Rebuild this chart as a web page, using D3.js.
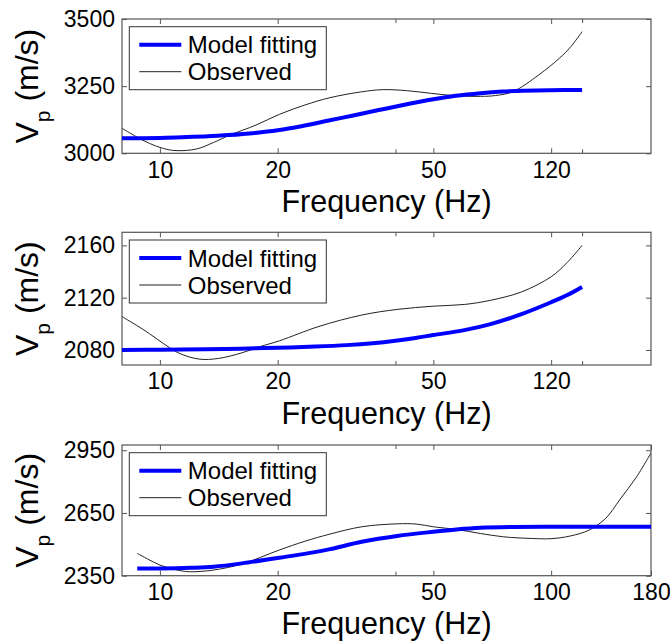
<!DOCTYPE html>
<html>
<head>
<meta charset="utf-8">
<script src="https://cdn.jsdelivr.net/npm/d3@7"></script>
<style>
  html, body { margin: 0; padding: 0; background: #fff; }
  svg { display: block; }
  text { font-family: "Liberation Sans", Arial, Helvetica, sans-serif; fill: #000; }
</style>
</head>
<body>
<svg id="chart" width="670" height="641"></svg>
<script>
// ---------- data ----------
const seriesNames = ["Model fitting", "Observed"];
const xLabel = "Frequency (Hz)";

// Panel 1
const p1ModelFreq = [8, 9, 10, 11, 13, 15, 17.5, 20, 23, 27, 31, 36, 41, 50, 57, 66, 75, 85, 100, 120];
const p1ModelVp   = [3056, 3056, 3057, 3059, 3063, 3068, 3076, 3086, 3101, 3122, 3140, 3160, 3177, 3201, 3214, 3224, 3230, 3233, 3235, 3236];
const p1ObsFreq   = [8, 8.7, 9.4, 10.2, 11, 12.4, 13.7, 15.1, 17.6, 20.2, 23.5, 27.2, 32.8, 37.2, 42.9, 49.5, 57.3, 66, 72, 80, 93, 105, 112, 120];
const p1ObsVp     = [3093, 3062, 3037, 3018, 3010, 3016, 3040, 3068, 3105, 3145, 3180, 3207, 3229, 3237, 3233, 3223, 3214, 3212, 3215, 3230, 3292, 3354, 3395, 3453];
const p1YTicks    = [3000, 3250, 3500];
const p1YDomain   = [3000, 3500];
const p1XTicks    = [10, 20, 50, 100];
const p1XTickLabels = ["10", "20", "50", "120"];
const p1XMinor    = [40, 120];

// Panel 2
const p2ModelFreq = [8, 10, 13, 16, 20, 25, 30, 35, 40, 45, 50, 60, 70, 84, 100, 110, 120];
const p2ModelVp   = [2080, 2080.2, 2080.6, 2081, 2081.7, 2082.6, 2083.7, 2085.2, 2087.1, 2089.2, 2091.4, 2095.2, 2099.8, 2107.4, 2116.5, 2122, 2128.2];
const p2ObsFreq   = [8, 8.7, 9.4, 10.2, 11.2, 12.6, 14.1, 16.2, 18, 20.2, 25.5, 32.8, 40.4, 50, 60, 70, 84, 100, 110, 120];
const p2ObsVp     = [2105.5, 2099, 2092.5, 2085, 2077.5, 2073, 2073.5, 2077.8, 2082.5, 2087, 2098, 2106.7, 2111, 2113.5, 2114.8, 2118, 2124.4, 2136, 2147, 2160];
const p2YTicks    = [2080, 2120, 2160];
const p2YDomain   = [2068.5, 2170];
const p2XTicks    = [10, 20, 50, 100];
const p2XTickLabels = ["10", "20", "50", "120"];
const p2XMinor    = [40, 120];

// Panel 3
const p3ModelFreq = [8.75, 10, 12, 13.7, 16.2, 20.2, 24, 27.2, 32.8, 40.4, 50, 57.3, 65.9, 80, 100, 130, 180];
const p3ModelVp   = [2385, 2385, 2388, 2393, 2409, 2436, 2458, 2477, 2512, 2540, 2560, 2571, 2579, 2583, 2584, 2584, 2584];
const p3ObsFreq   = [8.75, 9.3, 10, 10.9, 11.9, 13.7, 16.2, 20.2, 23.5, 27.2, 32.8, 40.4, 45.2, 50, 57.3, 65.9, 75.5, 89.5, 100, 112, 125, 138, 150, 165, 180];
const p3ObsVp     = [2457, 2430, 2401, 2380, 2369, 2377, 2406, 2473, 2515, 2549, 2584, 2598, 2597, 2584, 2571, 2552, 2536, 2528, 2527, 2540, 2568, 2625, 2715, 2820, 2937];
const p3YTicks    = [2350, 2650, 2950];
const p3YDomain   = [2350, 2975];
const p3XTicks    = [10, 20, 50, 100, 180];
const p3XTickLabels = ["10", "20", "50", "100", "180"];
const p3XMinor    = [40];

const xDomain = [8, 180];

// ---------- layout ----------
const plotLeft = 122, plotRight = 651;
const panels = [
  { top: 19,  bottom: 153.3, yDomain: p1YDomain, yTicks: p1YTicks, xTicks: p1XTicks, xTickLabels: p1XTickLabels, xMinor: p1XMinor,
    model: p1ModelFreq.map((f, i) => [f, p1ModelVp[i]]), obs: p1ObsFreq.map((f, i) => [f, p1ObsVp[i]]) },
  { top: 232.3, bottom: 365, yDomain: p2YDomain, yTicks: p2YTicks, xTicks: p2XTicks, xTickLabels: p2XTickLabels, xMinor: p2XMinor,
    model: p2ModelFreq.map((f, i) => [f, p2ModelVp[i]]), obs: p2ObsFreq.map((f, i) => [f, p2ObsVp[i]]) },
  { top: 445, bottom: 575.7, yDomain: p3YDomain, yTicks: p3YTicks, xTicks: p3XTicks, xTickLabels: p3XTickLabels, xMinor: p3XMinor,
    model: p3ModelFreq.map((f, i) => [f, p3ModelVp[i]]), obs: p3ObsFreq.map((f, i) => [f, p3ObsVp[i]]) }
];

const svg = d3.select("#chart");
const frameColor = "#555";
const tickLen = 5;
const tickFont = 23;

const x = d3.scaleLog().domain(xDomain).range([plotLeft, plotRight]);

panels.forEach((p, idx) => {
  const y = d3.scaleLinear().domain(p.yDomain).range([p.bottom, p.top]);
  const g = svg.append("g");
  const clipId = "clip" + idx;
  svg.append("clipPath").attr("id", clipId).append("rect")
    .attr("x", plotLeft).attr("y", p.top).attr("width", plotRight - plotLeft).attr("height", p.bottom - p.top);

  // bottom axis (ticks inward)
  const xAxisB = d3.axisBottom(x).tickValues(p.xTicks)
    .tickFormat((d, i) => p.xTickLabels[i]).tickSizeInner(-tickLen).tickSizeOuter(0).tickPadding(8);
  const gb = g.append("g").attr("transform", `translate(0,${p.bottom})`).call(xAxisB);
  gb.select(".domain").remove();
  gb.selectAll("line").attr("stroke", frameColor);
  gb.selectAll("text").attr("font-size", tickFont).attr("font-family", "Liberation Sans, Arial, sans-serif").attr("dy", "0.71em");

  // top axis ticks
  const xAxisT = d3.axisTop(x).tickValues(p.xTicks).tickFormat("").tickSizeInner(-tickLen).tickSizeOuter(0);
  const gt = g.append("g").attr("transform", `translate(0,${p.top})`).call(xAxisT);
  gt.select(".domain").remove();
  gt.selectAll("line").attr("stroke", frameColor);

  // minor ticks
  const minorB = d3.axisBottom(x).tickValues(p.xMinor).tickFormat("").tickSizeInner(-tickLen + 1).tickSizeOuter(0);
  const gmb = g.append("g").attr("transform", `translate(0,${p.bottom})`).call(minorB);
  gmb.select(".domain").remove();
  gmb.selectAll("line").attr("stroke", frameColor);
  const minorT = d3.axisTop(x).tickValues(p.xMinor).tickFormat("").tickSizeInner(-tickLen + 1).tickSizeOuter(0);
  const gmt = g.append("g").attr("transform", `translate(0,${p.top})`).call(minorT);
  gmt.select(".domain").remove();
  gmt.selectAll("line").attr("stroke", frameColor);

  // left axis
  const yAxisL = d3.axisLeft(y).tickValues(p.yTicks).tickFormat(d3.format("d"))
    .tickSizeInner(-tickLen).tickSizeOuter(0).tickPadding(7);
  const gl = g.append("g").attr("transform", `translate(${plotLeft},0)`).call(yAxisL);
  gl.select(".domain").remove();
  gl.selectAll("line").attr("stroke", frameColor);
  gl.selectAll("text").attr("font-size", tickFont).attr("font-family", "Liberation Sans, Arial, sans-serif");

  // right axis ticks
  const yAxisR = d3.axisRight(y).tickValues(p.yTicks).tickFormat("").tickSizeInner(-tickLen).tickSizeOuter(0);
  const gr = g.append("g").attr("transform", `translate(${plotRight},0)`).call(yAxisR);
  gr.select(".domain").remove();
  gr.selectAll("line").attr("stroke", frameColor);

  // frame
  g.append("rect").attr("x", plotLeft).attr("y", p.top)
    .attr("width", plotRight - plotLeft).attr("height", p.bottom - p.top)
    .attr("fill", "none").attr("stroke", frameColor).attr("stroke-width", 1.2);

  const line = d3.line().x(d => x(d[0])).y(d => y(d[1])).curve(d3.curveCatmullRom.alpha(0.5));

  const lines = g.append("g").attr("clip-path", `url(#${clipId})`);
  lines.append("path").datum(p.obs).attr("d", line)
    .attr("fill", "none").attr("stroke", "#222").attr("stroke-width", 1);
  lines.append("path").datum(p.model).attr("d", line)
    .attr("fill", "none").attr("stroke", "#0000ff").attr("stroke-width", 4);

  // legend
  const lx = 129.3, ly = p.top + 7.7, lw = 197, lh = 63;
  const lg = g.append("g");
  lg.append("rect").attr("x", lx).attr("y", ly).attr("width", lw).attr("height", lh)
    .attr("fill", "#fff").attr("stroke", "#333").attr("stroke-width", 1);
  const rows = [
    { name: seriesNames[0], color: "#0000ff", w: 4, dy: 18 },
    { name: seriesNames[1], color: "#222", w: 1, dy: 45 }
  ];
  rows.forEach(r => {
    lg.append("line").attr("x1", lx + 10).attr("x2", lx + 52)
      .attr("y1", ly + r.dy).attr("y2", ly + r.dy)
      .attr("stroke", r.color).attr("stroke-width", r.w);
    lg.append("text").attr("x", lx + 58.5).attr("y", ly + r.dy).attr("dy", "0.36em")
      .attr("font-size", 24).text(r.name);
  });

  // x title
  g.append("text").attr("x", (plotLeft + plotRight) / 2).attr("y", p.bottom + 58.5)
    .attr("text-anchor", "middle").attr("font-size", 30.5).text(xLabel);

  // y title: V_p (m/s)
  const cy = (p.top + p.bottom) / 2;
  const yt = g.append("text").attr("transform", `translate(38,${cy}) rotate(-90)`)
    .attr("text-anchor", "middle").attr("font-size", 32);
  yt.append("tspan").text("V");
  yt.append("tspan").attr("font-size", 21).attr("dy", 12).text("p");
  yt.append("tspan").attr("dy", -12).text(" (m/s)");
});
</script>
</body>
</html>
